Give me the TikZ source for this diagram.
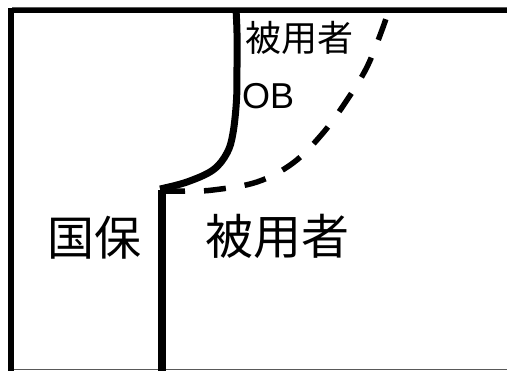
\documentclass[tikz,border=0pt]{standalone}
\usepackage{fontspec}
\newfontfamily\jpfont{Noto Sans CJK JP}
\newfontfamily\latfont{Liberation Sans}
\begin{document}
\begin{tikzpicture}[x=1pt,y=-1pt,
  frame/.style={line width=6pt,black},
  thinedge/.style={line width=1pt,black!65},
  boundary/.style={line width=7pt,black,line cap=butt,line join=round},
  dashbound/.style={line width=5.5pt,black,dash pattern=on 22pt off 19pt},
  lbl/.style={inner sep=0pt,anchor=center}]
\useasboundingbox (0,0) rectangle (507,371);
\fill[white] (0,0) rectangle (507,371);
% coordinates
\coordinate (tl) at (11,8);
\coordinate (bl) at (11,371);
\coordinate (tlh) at (8,11);
\coordinate (tr) at (507,11);
\coordinate (mtop) at (162,190);
\coordinate (mbot) at (162,371);
% thin edges
\draw[thinedge] (12,7.5) -- (507,7.5);
\draw[thinedge] (14,369.5) -- (507,369.5);
% frame
\draw[frame] (tl) -- (bl);
\draw[line width=5pt] (tlh) -- (tr);
% middle vertical
\draw[line width=8pt] (mtop) -- (mbot);
% solid curved boundary
\draw[boundary] plot[smooth,tension=0.6] coordinates {(160,189) (187,182) (213,170) (227,153) (233,133) (236.5,100) (237,67) (237,33) (236,9)};
% dashed boundary
\draw[dashbound] plot[smooth,tension=0.6] coordinates {(163,191) (187,191) (213,190) (257,182) (293,163) (323,133) (347,100) (367,67) (382,30) (389,9)};
% labels
\node[lbl,font=\jpfont\fontsize{36}{36}\selectfont] (sm) at (299.5,37.5) {被用者};
\node[lbl,anchor=base west,font=\latfont\fontsize{36}{36}\selectfont] (ob) at (242,109) {OB};
\node[lbl,font=\jpfont\fontsize{48}{48}\selectfont] (big) at (277.5,236.5) {被用者};
\node[lbl,font=\jpfont\fontsize{47}{47}\selectfont] (kk) at (95,237.5) {国保};
\end{tikzpicture}
\end{document}
